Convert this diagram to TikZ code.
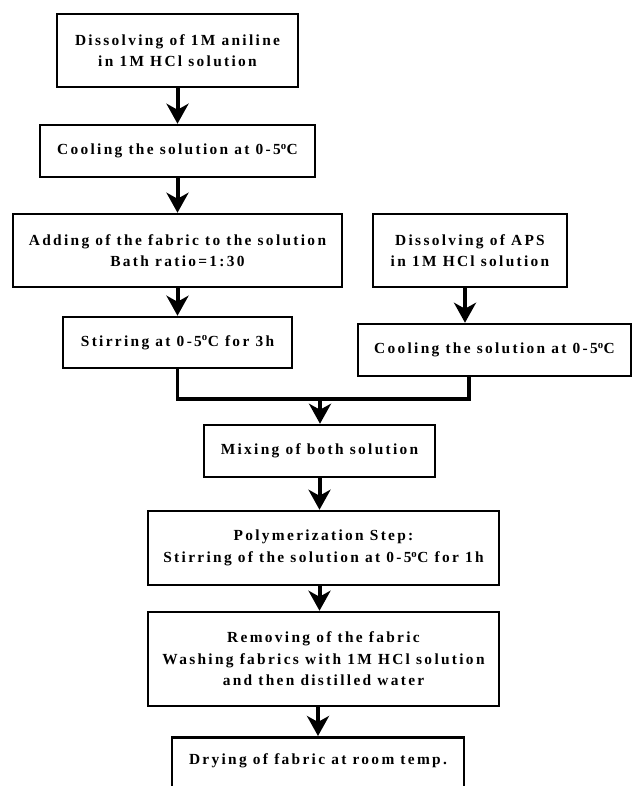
\documentclass[tikz,border=0pt]{standalone}
\usepackage{fontspec}
\setmainfont{Liberation Serif}
\newfontfamily\boxfont[LetterSpace=15]{Liberation Serif}
\usetikzlibrary{arrows.meta}
\newcommand{\dg}{\textsuperscript{o}}
\begin{document}
\begin{tikzpicture}[x=1pt,y=-1pt,
  box/.style={draw, line width=2.5pt, align=center, inner sep=0pt,
    font=\boxfont\bfseries\fontsize{15.4}{21.5}\selectfont},
  flow/.style={line width=4pt, -{Stealth[length=20pt,width=22pt,inset=6pt]}},
  joinline/.style={line width=3.5pt}]
\useasboundingbox (0,0) rectangle (634,786);
\node[box, minimum width=241pt, minimum height=73pt] (b1) at (177.5,50.5)
  {Dissolving of 1M aniline\\in 1M HCl solution};
\node[box, minimum width=275pt, minimum height=52pt] (b2) at (177.5,151)
  {Cooling the solution at 0-5\dg C};
\node[box, minimum width=329pt, minimum height=73pt] (b3) at (177.5,250.5)
  {Adding of the fabric to the solution\\Bath ratio=1:30};
\node[box, minimum width=194pt, minimum height=73pt] (aps) at (470,250.5)
  {Dissolving of APS\\in 1M HCl solution};
\node[box, minimum width=229pt, minimum height=51pt] (stir) at (177.5,342.5)
  {Stirring at 0-5\dg C for 3h};
\node[box, minimum width=273pt, minimum height=52pt] (coolr) at (494.5,350)
  {Cooling the solution at 0-5\dg C};
\node[box, minimum width=231pt, minimum height=52pt] (mix) at (319.5,451)
  {Mixing of both solution};
\node[box, minimum width=351pt, minimum height=74pt] (poly) at (323.5,548)
  {Polymerization Step:\\Stirring of the solution at 0-5\dg C for 1h};
\node[box, minimum width=351pt, minimum height=94pt] (rem) at (323.5,659)
  {Removing of the fabric\\Washing fabrics with 1M HCl solution\\and then distilled water};
\node[box, minimum width=292pt, text height=27pt, text depth=43pt, anchor=north] (dry) at (318,736)
  {Drying of fabric at room temp.};
\coordinate (j) at (320,399);
\draw[flow] (b1) -- (b2);
\draw[flow] (b2) -- (b3);
\draw[flow] (b3) -- (stir);
\draw[flow] ([xshift=-5pt]aps.south) -- ([xshift=-5pt]aps.south |- coolr.north);
\draw[joinline] (stir.south) -- (stir.south |- j) -| ([xshift=-25.5pt]coolr.south);
\draw[flow] (j) -- (j |- mix.north);
\draw[flow] (mix.south) -- (mix.south |- poly.north);
\draw[flow] ([xshift=-4pt]poly.south) -- ([xshift=-4pt]rem.north);
\draw[flow] (rem.south -| dry.north) -- (dry.north);
\end{tikzpicture}
\end{document}
